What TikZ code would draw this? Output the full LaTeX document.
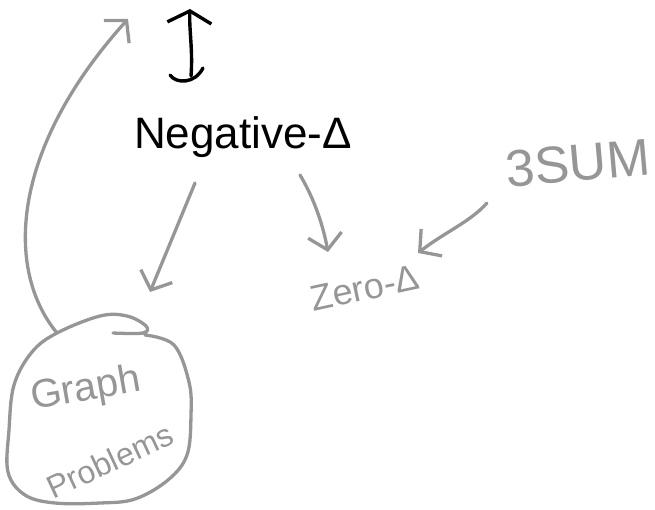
\documentclass[tikz,border=0pt]{standalone}
\usepackage{fontspec}
\setmainfont{Liberation Sans}
\usetikzlibrary{arrows.meta}
\definecolor{pen}{RGB}{150,150,150}
\tikzset{
  grayline/.style={draw=pen, line width=3.3pt, line cap=round, line join=round},
  blackline/.style={draw=black, line width=3.4pt, line cap=round, line join=round},
  vtip/.style={-{Straight Barb[length=15pt,width=34pt,line width=3.3pt]}},
  graytext/.style={text=pen, inner sep=0pt},
}
\begin{document}
\begin{tikzpicture}[x=1pt,y=-1pt]
\useasboundingbox (0,0) rectangle (655,509);
% texts
\node[inner sep=0pt, font=\fontsize{44}{44}\selectfont] (neg) at (243,137) {Negative-Δ};
\node[graytext, rotate=12, font=\fontsize{36}{36}\selectfont] (zero) at (365,288) {Zero-Δ};
\node[graytext, rotate=5, font=\fontsize{52}{52}\selectfont] (sum) at (578,163) {3SUM};
\node[graytext, rotate=10, font=\fontsize{40}{40}\selectfont] (graph) at (86,390) {Graph};
\node[graytext, rotate=25, font=\fontsize{32}{32}\selectfont] (prob) at (110,461) {Problems};
% top black arrow
\coordinate (ua) at (191,76);
\coordinate (ub) at (190,9);
\draw[blackline, -{Straight Barb[length=12pt,width=44pt,line width=3.4pt]}] (ua) .. controls (193,50) and (189,30) .. (ub);
\draw[blackline] (170,75) .. controls (176,84) and (195,84) .. (203,68);
% arrows from Negative
\coordinate (n1) at (195,183);
\coordinate (l1) at (150,292);
\draw[grayline, vtip] (n1) -- (l1);
\coordinate (n2) at (300,175);
\coordinate (l2) at (328,252);
\draw[grayline, vtip] (n2) .. controls (312,195) and (322,220) .. (l2);
% 3SUM to Zero
\coordinate (s1) at (487,203);
\coordinate (z1) at (418,253);
\draw[grayline, vtip] (s1) .. controls (470,222) and (445,232) .. (z1);
% blob around Graph Problems
\draw[grayline] plot[smooth, tension=0.6] coordinates {
  (113,333) (143,333) (146,326) (127,316) (100,316) (57,333) (32,352) (14,385)
  (9,430) (8,472) (25,495) (55,503) (100,503) (135,499) (168,480) (187,455)
  (191,415) (189,382) (174,345) (145,335)};
% long curve to top
\coordinate (g1) at (57,333);
\coordinate (g2) at (128,19);
\draw[grayline, vtip] (g1) .. controls (5,270) and (10,150) .. (g2);
\end{tikzpicture}
\end{document}
